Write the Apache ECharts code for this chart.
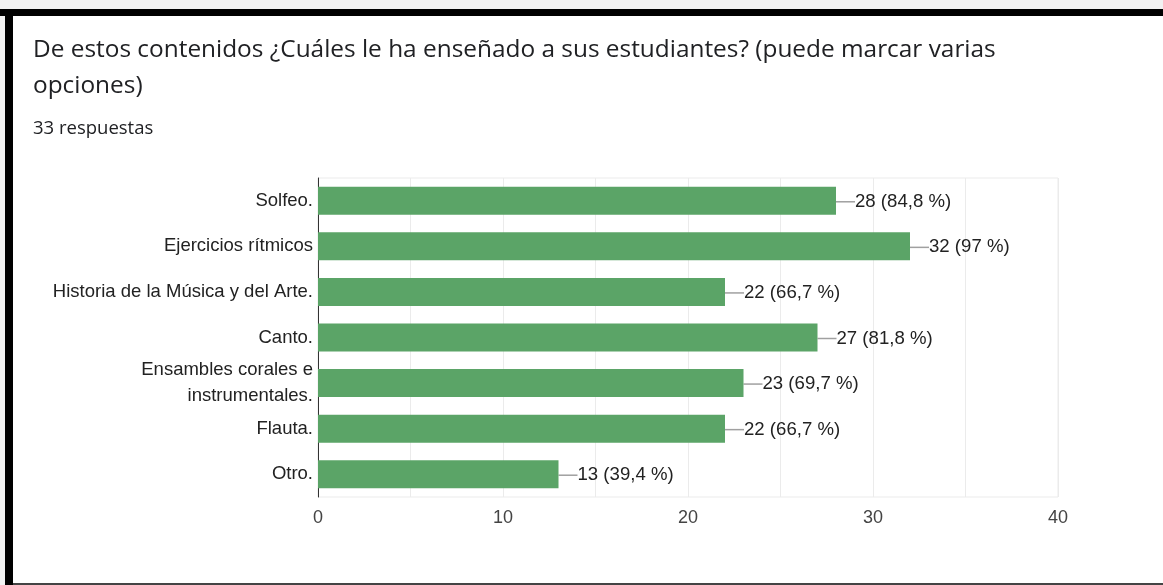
<!DOCTYPE html>
<html>
<head>
<meta charset="utf-8">
<script src="https://cdn.jsdelivr.net/npm/echarts@6/dist/echarts.min.js"></script>
<style>
  html, body { margin: 0; padding: 0; background: #ffffff; }
  #chart { width: 1163px; height: 585px; }
</style>
</head>
<body>
<div id="chart"></div>
<script>
const titleLines = "De estos contenidos ¿Cuáles le ha enseñado a sus estudiantes? (puede marcar varias\nopciones)";
const subtitleText = "33 respuestas";
const categories = [
  "Solfeo.",
  "Ejercicios rítmicos",
  "Historia de la Música y del Arte.",
  "Canto.",
  "Ensambles corales e\ninstrumentales.",
  "Flauta.",
  "Otro."
];
const counts = [28, 32, 22, 27, 23, 22, 13];
const percents = ["84,8", "97", "66,7", "81,8", "69,7", "66,7", "39,4"];
const xTicks = [0, 10, 20, 30, 40];

const chart = echarts.init(document.getElementById('chart'), null, { renderer: 'canvas' });
chart.setOption({
  backgroundColor: '#ffffff',
  animation: false,
  title: [
    {
      text: titleLines, left: 33, top: 32, padding: 0,
      textStyle: { fontFamily: 'Open Sans', fontSize: 24.4, fontWeight: 'normal', color: '#202124', lineHeight: 36 }
    },
    {
      text: subtitleText, left: 33, top: 119, padding: 0,
      textStyle: { fontFamily: 'Open Sans', fontSize: 18.5, fontWeight: 'normal', color: '#202124', lineHeight: 20 }
    }
  ],
  graphic: [
    { type: 'rect', shape: { x: 0, y: 0, width: 1163, height: 9 }, style: { fill: '#f2f2f2' }, silent: true },
    { type: 'rect', shape: { x: 0, y: 0, width: 5, height: 585 }, style: { fill: '#f2f2f2' }, silent: true },
    { type: 'rect', shape: { x: 0, y: 9, width: 1163, height: 7 }, style: { fill: '#000000' }, silent: true },
    { type: 'rect', shape: { x: 5, y: 9, width: 8, height: 576 }, style: { fill: '#000000' }, silent: true },
    { type: 'rect', shape: { x: 13, y: 583, width: 1150, height: 2 }, style: { fill: '#444444' }, silent: true }
  ],
  grid: {
    left: 318, right: 105, top: 178, bottom: 88,
    show: true, borderColor: '#ebebeb', borderWidth: 1, backgroundColor: 'transparent'
  },
  xAxis: {
    type: 'value', min: xTicks[0], max: xTicks[xTicks.length - 1], interval: 5,
    axisLine: { show: false }, axisTick: { show: false },
    splitLine: { show: true, lineStyle: { color: '#ebebeb', width: 1 } },
    axisLabel: {
      margin: 12, fontFamily: 'Liberation Sans', fontSize: 18, color: '#444444',
      formatter: function (v) { return xTicks.indexOf(v) >= 0 ? String(v) : ''; }
    }
  },
  yAxis: {
    type: 'category', data: categories, inverse: true,
    axisLine: { show: true, lineStyle: { color: '#333333', width: 1 } },
    axisTick: { show: false },
    splitLine: { show: false },
    axisLabel: { margin: 5, fontFamily: 'Liberation Sans', fontSize: 18.5, color: '#222222', lineHeight: 26, align: 'right' }
  },
  series: [{
    type: 'bar',
    data: counts,
    barWidth: 28,
    itemStyle: { color: '#5ba467' },
    label: {
      show: true, position: 'right', distance: 0,
      fontFamily: 'Liberation Sans', fontSize: 18.6, color: '#222222',
      formatter: function (p) { return counts[p.dataIndex] + ' (' + percents[p.dataIndex] + ' %)'; }
    },
    labelLayout: { dx: 19, dy: 1 },
    labelLine: { show: true, lineStyle: { color: '#a0a0a0', width: 1.5 } }
  }]
});
</script>
</body>
</html>
